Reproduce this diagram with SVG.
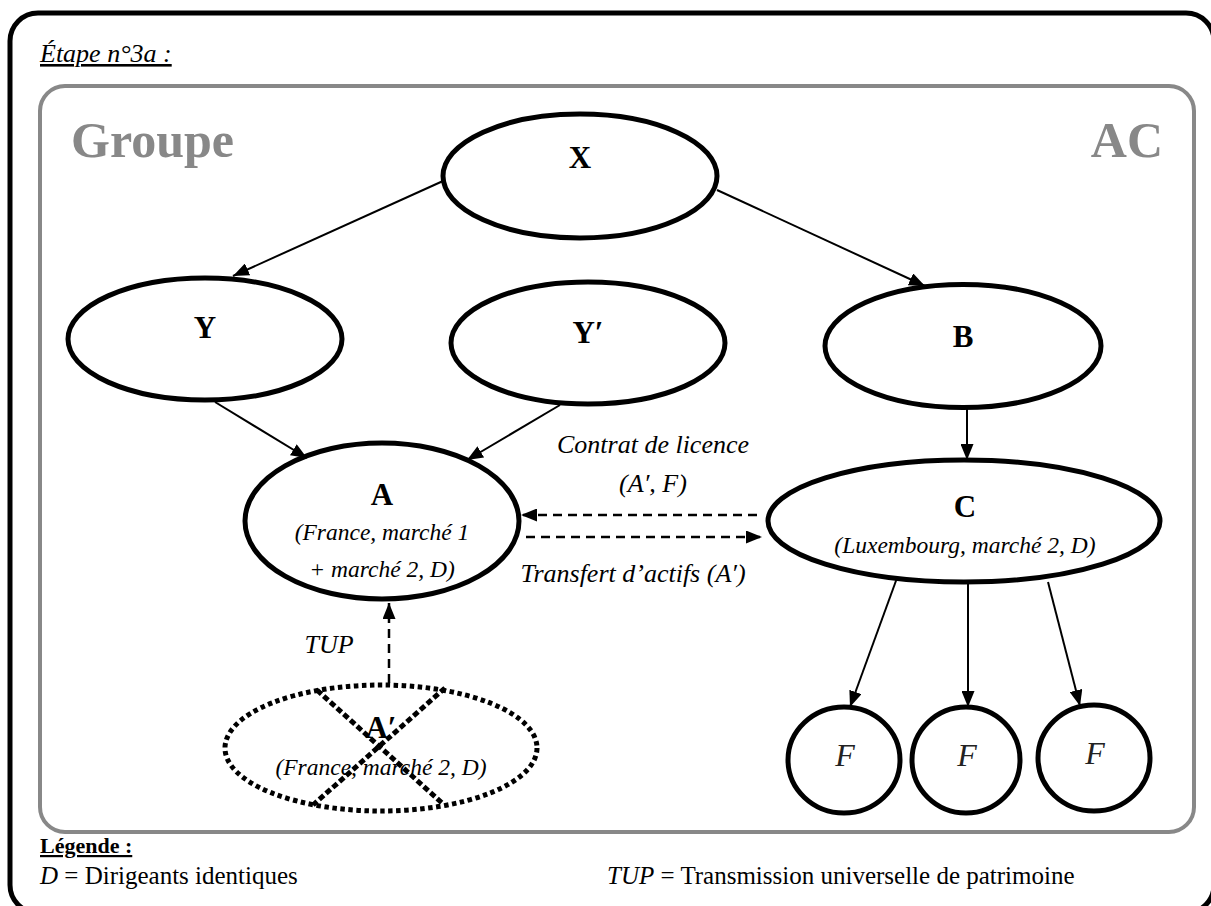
<svg xmlns="http://www.w3.org/2000/svg" width="1211" height="906" viewBox="0 0 1211 906">
  <style>
    .node { fill: #ffffff; stroke: #000000; stroke-width: 5; }
    .lbl { font-family: "Liberation Serif", "Times New Roman", serif; font-weight: bold; font-size: 31px; fill: #000; text-anchor: middle; }
    .sub { font-family: "Liberation Serif", "Times New Roman", serif; font-style: italic; font-size: 23.5px; fill: #000; text-anchor: middle; }
    .edge { font-family: "Liberation Serif", "Times New Roman", serif; font-style: italic; font-size: 26px; fill: #000; text-anchor: middle; }
    .f { font-family: "Liberation Serif", "Times New Roman", serif; font-style: italic; font-size: 32px; fill: #222; text-anchor: middle; }
    .grp { font-family: "Liberation Serif", "Times New Roman", serif; font-weight: bold; font-size: 50px; fill: #888888; }
    .leg { font-family: "Liberation Serif", "Times New Roman", serif; font-size: 25px; fill: #000; }
    .conn { stroke: #000; stroke-width: 2; fill: none; }
    .dash { stroke: #000; stroke-width: 2.5; fill: none; stroke-dasharray: 9 6; }
  </style>
  <defs>
    <marker id="arr" markerUnits="userSpaceOnUse" markerWidth="16" markerHeight="13" refX="16" refY="6.5" orient="auto">
      <path d="M0,0 L16,6.5 L0,13 Z" fill="#000"/>
    </marker>
  </defs>

  <rect x="0" y="0" width="1211" height="906" fill="#ffffff"/>

  <!-- Outer frame -->
  <rect x="10" y="13" width="1204" height="900" rx="28" ry="28" fill="none" stroke="#000" stroke-width="5"/>
  <text x="40" y="62" font-family="Liberation Serif, serif" font-style="italic" font-size="26" text-decoration="underline">Étape n°3a :</text>

  <!-- Group frame -->
  <g id="groupe">
    <rect x="40" y="86" width="1154" height="746" rx="25" ry="25" fill="none" stroke="#888888" stroke-width="4"/>
    <text class="grp" x="71" y="157">Groupe</text>
    <text class="grp" x="1163" y="157" text-anchor="end">AC</text>
  </g>

  <!-- Nodes -->
  <g id="node-X">
    <ellipse class="node" cx="580" cy="176" rx="137" ry="62"/>
    <text class="lbl" x="580" y="168">X</text>
  </g>
  <g id="node-Y">
    <ellipse class="node" cx="205" cy="339" rx="137" ry="61"/>
    <text class="lbl" x="205" y="338">Y</text>
  </g>
  <g id="node-Yp">
    <ellipse class="node" cx="588" cy="343" rx="137" ry="61"/>
    <text class="lbl" x="588" y="343">Y′</text>
  </g>
  <g id="node-B">
    <ellipse class="node" cx="963" cy="346" rx="138" ry="61.5"/>
    <text class="lbl" x="963" y="347">B</text>
  </g>
  <g id="node-A">
    <ellipse class="node" cx="382" cy="521" rx="137" ry="78"/>
    <text class="lbl" x="382" y="505">A</text>
    <text class="sub" x="382" y="540">(France, marché 1</text>
    <text class="sub" x="382" y="577">+ marché 2, D)</text>
  </g>
  <g id="node-C">
    <ellipse class="node" cx="964" cy="521" rx="196" ry="61"/>
    <text class="lbl" x="965" y="517">C</text>
    <text class="sub" x="965" y="553">(Luxembourg, marché 2, D)</text>
  </g>
  <g id="node-Ap">
    <ellipse cx="381" cy="748" rx="156" ry="63" fill="#ffffff" stroke="#000" stroke-width="5" stroke-dasharray="4.5 3.5"/>
    <text class="lbl" x="381" y="738" font-size="28">A′</text>
    <text class="sub" x="381" y="775">(France, marché 2, D)</text>
    <line x1="317" y1="690" x2="442" y2="803" stroke="#000" stroke-width="5" stroke-dasharray="6 3"/>
    <line x1="445" y1="688" x2="313" y2="805" stroke="#000" stroke-width="5" stroke-dasharray="6 3"/>
  </g>
  <g id="node-F1">
    <ellipse class="node" cx="844" cy="760" rx="56" ry="53"/>
    <text class="f" x="845" y="766">F</text>
  </g>
  <g id="node-F2">
    <ellipse class="node" cx="966" cy="760" rx="54" ry="53"/>
    <text class="f" x="967" y="766">F</text>
  </g>
  <g id="node-F3">
    <ellipse class="node" cx="1094" cy="758" rx="56" ry="53"/>
    <text class="f" x="1095" y="764">F</text>
  </g>

  <!-- Connectors -->
  <g id="connectors">
    <line class="conn" x1="443" y1="181" x2="233" y2="276" marker-end="url(#arr)"/>
    <line class="conn" x1="717" y1="190" x2="925" y2="286" marker-end="url(#arr)"/>
    <line class="conn" x1="215" y1="402" x2="307" y2="458" marker-end="url(#arr)"/>
    <line class="conn" x1="560" y1="405" x2="467" y2="460" marker-end="url(#arr)"/>
    <line class="conn" x1="967" y1="408" x2="967" y2="460" marker-end="url(#arr)"/>
    <line class="dash" x1="757" y1="515" x2="521" y2="515" marker-end="url(#arr)"/>
    <line class="dash" x1="526" y1="537" x2="762" y2="537" marker-end="url(#arr)"/>
    <line class="dash" x1="389" y1="683" x2="389" y2="603" marker-end="url(#arr)"/>
    <line class="conn" x1="897" y1="578" x2="850" y2="707" marker-end="url(#arr)"/>
    <line class="conn" x1="968" y1="583" x2="968" y2="707" marker-end="url(#arr)"/>
    <line class="conn" x1="1048" y1="582" x2="1080" y2="706" marker-end="url(#arr)"/>
    <text class="edge" x="653" y="453">Contrat de licence</text>
    <text class="edge" x="653" y="492">(A′, F)</text>
    <text class="edge" x="633" y="582">Transfert d’actifs (A′)</text>
    <text class="edge" x="329" y="653">TUP</text>
  </g>

  <!-- Legend -->
  <g id="legende">
    <text x="40" y="853" font-family="Liberation Serif, serif" font-weight="bold" font-size="22" text-decoration="underline">Légende :</text>
    <text class="leg" x="40" y="884"><tspan font-style="italic">D</tspan> = Dirigeants identiques</text>
    <text class="leg" x="607" y="884"><tspan font-style="italic">TUP</tspan> = Transmission universelle de patrimoine</text>
  </g>
</svg>
